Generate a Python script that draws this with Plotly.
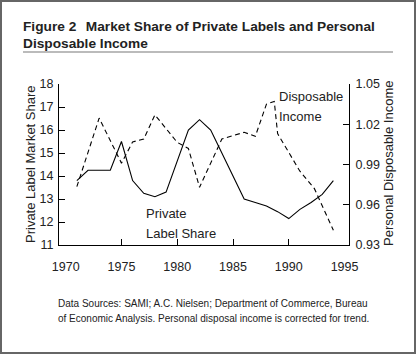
import plotly.graph_objects as go

# ---- data ----
share_years = [1971, 1972, 1973, 1974, 1975, 1976, 1977, 1978, 1979, 1980, 1981, 1982,
               1983, 1984, 1985, 1986, 1987, 1988, 1989, 1990, 1991, 1992, 1993, 1994]
share_values = [13.8, 14.25, 14.25, 14.25, 15.5, 13.8, 13.25, 13.1, 13.3, 14.65, 16.0, 16.45,
                16.0, 15.0, 14.0, 13.0, 12.85, 12.7, 12.45, 12.15, 12.55, 12.85, 13.2, 13.8]

income_years = [1971, 1973, 1975, 1976, 1977, 1978, 1980, 1981, 1982, 1984, 1986, 1987,
                1988, 1988.7, 1989, 1991, 1992.3, 1994]
income_values = [0.9735, 1.0246, 0.991, 1.0068, 1.009, 1.027, 1.0065, 1.002, 0.973, 1.009, 1.014, 1.011,
                 1.035, 1.037, 1.013, 0.985, 0.972, 0.941]

x_labels = [1970, 1975, 1980, 1985, 1990, 1995]
x_tick_marks = [1975, 1980, 1985, 1990]
left_ticks = [11, 12, 13, 14, 15, 16, 17, 18]
right_ticks = [0.93, 0.96, 0.99, 1.02, 1.05]
right_tick_text = ["0.93", "0.96", "0.99", "1.02", "1.05"]

title_line1 = "Figure 2\u2002\u2009Market Share of Private Labels and Personal"
title_line2 = "Disposable Income"
note_line1 = "Data Sources: SAMI; A.C. Nielsen; Department of Commerce, Bureau"
note_line2 = "of Economic Analysis. Personal disposal income is corrected for trend."

# ---- geometry ----
W, H = 416, 354
L, R, T, B = 59, 349, 84, 245
FONT = "Liberation Sans, Arial, sans-serif"
X_RANGE = [1969.4, 1995.4]


def px(x):
    return (x - L) / (R - L)


def py(y):
    return (B - y) / (B - T)


fig = go.Figure()
fig.add_trace(go.Scatter(x=share_years, y=share_values, mode="lines",
                         line=dict(color="black", width=1.1), yaxis="y", showlegend=False))
fig.add_trace(go.Scatter(x=income_years, y=income_values, mode="lines",
                         line=dict(color="black", width=1.1, dash="5px,3.5px"),
                         yaxis="y2", showlegend=False))

tickfont = dict(family=FONT, size=12.5, color="#222")
axis_common = dict(showgrid=False, zeroline=False, showline=True, linecolor="black",
                   linewidth=1, ticks="inside", ticklen=6, tickcolor="black", tickwidth=1,
                   tickfont=tickfont)

fig.update_layout(
    width=W, height=H,
    margin=dict(l=L, r=W - R, t=T, b=H - B),
    paper_bgcolor="white", plot_bgcolor="white",
    xaxis=dict(range=X_RANGE, tickvals=x_labels, ticks="", ticklabelstandoff=10,
               showgrid=False, zeroline=False, showline=True, linecolor="black", linewidth=1,
               tickfont=tickfont),
    xaxis2=dict(range=X_RANGE, tickvals=x_tick_marks, overlaying="x", side="bottom",
                showticklabels=False, ticks="inside", ticklen=6, tickcolor="black", tickwidth=1,
                showgrid=False, zeroline=False, showline=False),
    yaxis=dict(range=[11, 18], tickvals=left_ticks, ticklabelstandoff=2, **axis_common),
    yaxis2=dict(range=[0.93, 1.05], tickvals=right_ticks, ticktext=right_tick_text,
                overlaying="y", side="right", ticklabelstandoff=3, **axis_common),
)
# invisible trace so the tick-mark axis is drawn
fig.add_trace(go.Scatter(x=[X_RANGE[0]], y=[11], xaxis="x2", yaxis="y", mode="markers",
                         marker=dict(opacity=0), hoverinfo="skip", showlegend=False))

ann = []


def text(x, y, s, size, bold=False, xanchor="left", angle=0, color="#222"):
    ann.append(dict(x=px(x), y=py(y), xref="paper", yref="paper", text=(f"<b>{s}</b>" if bold else s),
                    showarrow=False, xanchor=xanchor, yanchor="middle", textangle=angle,
                    font=dict(family=FONT, size=size, color=color)))


text(21, 26, title_line1, 13.7, bold=True)
text(21, 43, title_line2, 13.7, bold=True)
text(30, 164, "Private Label Market Share", 13, xanchor="center", angle=-90)
text(388, 164, "Personal Disposable Income", 13, xanchor="center", angle=-90)
text(277, 96, "Disposable", 13)
text(277, 116, "Income", 13)
text(144, 213, "Private", 13)
text(144, 233, "Label Share", 13)
text(56, 303, note_line1, 10)
text(56, 318, note_line2, 10)

fig.update_layout(annotations=ann)

shapes = [
    dict(type="line", xref="paper", yref="paper", x0=px(23), x1=px(393), y0=py(52), y1=py(52),
         line=dict(color="#bbbbbb", width=2)),
    dict(type="rect", xref="paper", yref="paper", x0=px(1), x1=px(415), y0=py(1), y1=py(353),
         line=dict(color="#666666", width=2)),
]
fig.update_layout(shapes=shapes)

fig.write_html("out.html")
